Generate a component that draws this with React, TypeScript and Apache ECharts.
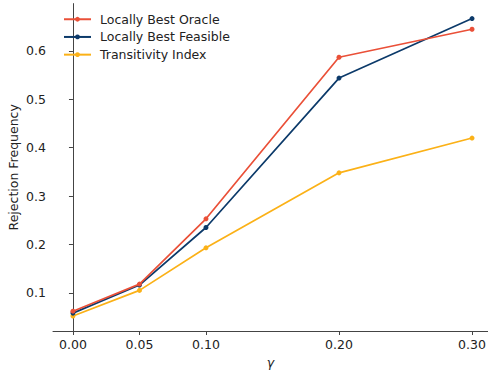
import React, { useEffect, useRef } from "react";
import * as echarts from "echarts";

const gammas = [0.0, 0.05, 0.1, 0.2, 0.3];
const xTickLabels = ["0.00", "0.05", "0.10", "0.20", "0.30"];
const yTicks = [0.1, 0.2, 0.3, 0.4, 0.5, 0.6];
const oracle = [0.062, 0.118, 0.253, 0.587, 0.645];
const feasible = [0.058, 0.116, 0.235, 0.544, 0.667];
const transitivity = [0.052, 0.105, 0.193, 0.348, 0.42];
const seriesNames = ["Locally Best Oracle", "Locally Best Feasible", "Transitivity Index"];
const colors = ["#ea5038", "#0c3a6a", "#fbb117"];

export default function App() {
  const ref = useRef<HTMLDivElement>(null);
  useEffect(() => {
    if (!ref.current) return;
    const chart = echarts.init(ref.current, null, { renderer: "svg" });
    const font = "DejaVu Sans";
    const fs = 12.5;
    const datasets = [oracle, feasible, transitivity];
    chart.setOption({
      animation: false,
      textStyle: { fontFamily: font },
      grid: { left: 53, right: 0, top: 3.6, bottom: 39, outerBoundsMode: "none", containLabel: false },
      legend: {
        orient: "vertical",
        left: 63,
        top: 12,
        padding: 0,
        itemWidth: 27,
        itemHeight: 6,
        itemGap: 3.2,
        data: seriesNames,
        textStyle: { fontFamily: font, fontSize: fs, lineHeight: 14.5, color: "#222", padding: [0, 0, 0, 4] },
      },
      xAxis: {
        type: "value",
        min: -0.015,
        max: 0.312,
        name: "γ",
        nameLocation: "middle",
        nameGap: 24.5,
        nameMoveOverlap: false,
        nameTextStyle: { fontFamily: font, fontSize: fs, fontStyle: "italic", color: "#222" },
        splitLine: { show: false },
        axisLine: { lineStyle: { color: "#444", width: 1 } },
        axisTick: { customValues: gammas, length: 4, lineStyle: { color: "#444" } },
        axisLabel: {
          customValues: gammas,
          fontFamily: font,
          fontSize: fs,
          color: "#222",
          margin: 7,
          formatter: (v: number) => {
            const i = gammas.findIndex((g) => Math.abs(g - v) < 1e-9);
            return i >= 0 ? xTickLabels[i] : "";
          },
        },
      },
      yAxis: {
        type: "value",
        min: 0.021,
        max: 0.698,
        name: "Rejection Frequency",
        nameLocation: "middle",
        nameGap: 33,
        nameMoveOverlap: false,
        nameTextStyle: { fontFamily: font, fontSize: fs, color: "#222" },
        splitLine: { show: false },
        axisLine: { show: true, lineStyle: { color: "#444", width: 1 } },
        axisTick: { show: true, customValues: yTicks, length: 4, lineStyle: { color: "#444" } },
        axisLabel: {
          customValues: yTicks,
          fontFamily: font,
          fontSize: fs,
          color: "#222",
          margin: 7,
          formatter: (v: number) => v.toFixed(1),
        },
      },
      series: datasets.map((d, i) => ({
        name: seriesNames[i],
        type: "line",
        data: d.map((v, j) => [gammas[j], v]),
        symbol: "circle",
        symbolSize: 5,
        showSymbol: true,
        itemStyle: { color: colors[i] },
        lineStyle: { color: colors[i], width: 1.7 },
        z: 3 - i,
      })),
    });
    return () => chart.dispose();
  }, []);
  return (
    <div
      ref={ref}
      style={{ position: "fixed", left: 0, top: 0, width: 488, height: 370, background: "#fff" }}
    />
  );
}
